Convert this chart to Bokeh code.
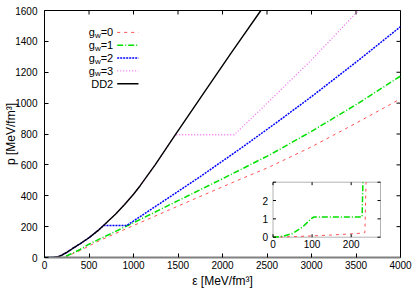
import numpy as np
from bokeh.plotting import figure
from bokeh.models import Range1d, FixedTicker, BoxAnnotation, Label, Arrow
from bokeh.core.properties import value
from bokeh.embed import file_html
from bokeh.resources import INLINE

# ---------------- data (MeV/fm^3) ----------------
eps_dd2 = [0, 50, 100, 150, 176, 200, 250, 300, 326, 400, 500, 600, 663, 800, 900, 1000, 1075, 1245, 1469, 1800, 2100, 2431, 2600]
p_dd2 = [0, 0.2, 1, 5, 11, 17, 33, 52, 62, 89, 128, 174, 208, 282, 343, 410, 465, 602, 795, 1075, 1327, 1600, 1740]

eps_w0 = [0, 50, 100, 150, 200, 225, 235, 238, 241, 300, 400, 627, 1000, 1500, 2000, 2538, 3000, 3500, 4000]
p_w0 = [0, 0.03, 0.07, 0.12, 0.18, 0.22, 0.25, 3, 5, 20, 45, 112, 207, 333, 458, 589, 717, 870, 1028]

eps_w1 = [0, 25, 50, 75, 100, 105, 228, 230, 232, 300, 400, 500, 627, 1000, 1500, 2000, 2538, 3000, 3500, 4000]
p_w1 = [0, 0.05, 0.2, 0.55, 1.05, 1.1, 1.1, 3, 5, 24, 52, 86, 122, 225, 368, 510, 667, 817, 990, 1175]

eps_w2 = [0, 50, 100, 150, 176, 200, 250, 300, 326, 400, 500, 600, 663, 926, 1300, 1750, 2200, 2600, 3000, 3500, 4000]
p_w2 = [0, 0.2, 1, 5, 11, 17, 33, 52, 62, 89, 128, 174, 208, 208, 351, 524, 705, 871, 1042, 1265, 1495]

eps_w3 = [0, 50, 100, 150, 176, 200, 250, 300, 326, 400, 500, 600, 663, 800, 900, 1000, 1075, 1245, 1469, 2132, 2539, 3000, 3528, 3700]
p_w3 = [0, 0.2, 1, 5, 11, 17, 33, 52, 62, 89, 128, 174, 208, 282, 343, 410, 465, 602, 795, 795, 1020, 1280, 1600, 1705]

x_ticks = [0, 500, 1000, 1500, 2000, 2500, 3000, 3500, 4000]
y_ticks = [0, 200, 400, 600, 800, 1000, 1200, 1400, 1600]
inset_x_ticks = [0, 100, 200]
inset_y_ticks = [0, 1, 2]
inset_x_max = 275
inset_y_max = 3

labels = ["0", "1", "2", "3"]
colors = ["#ff5050", "#00e000", "#0000ff", "#f070f0", "#000000"]
dashes = ["3 4", "6 2 1 2", "2 1", "1 2", "solid"]
widths = [1.0, 1.5, 1.5, 1.3, 1.4]

FONT = "Liberation Sans"

# ---------------- figure ----------------
W, H = 415, 291
ML, MR, MT, MB = 44, 15, 10, 34
p = figure(width=W, height=H, output_backend="svg", toolbar_location=None,
           x_range=Range1d(0, 4000), y_range=Range1d(0, 1600),
           min_border_left=ML, min_border_right=MR, min_border_top=MT, min_border_bottom=MB)
p.xgrid.visible = False
p.ygrid.visible = False
p.outline_line_color = "black"
p.background_fill_color = "white"
p.border_fill_color = "white"

for ax, ticks in ((p.xaxis[0], x_ticks), (p.yaxis[0], y_ticks)):
    ax.ticker = FixedTicker(ticks=ticks)
    ax.major_tick_in = 4
    ax.major_tick_out = 0
    ax.minor_tick_line_color = None
    ax.major_tick_line_color = "black"
    ax.axis_line_color = "black"
    ax.major_label_text_font = FONT
    ax.major_label_text_font_size = "10px"
    ax.major_label_text_color = "black"
    ax.axis_label_text_font = FONT
    ax.axis_label_text_font_size = "12px"
    ax.axis_label_text_font_style = "normal"
    ax.axis_label_text_color = "black"
p.xaxis[0].axis_line_color = "#808080"
p.xaxis[0].axis_line_width = 2
p.xaxis[0].major_label_standoff = 3
p.xaxis[0].axis_label_standoff = 2
p.yaxis[0].major_label_standoff = 7
p.yaxis[0].axis_label_standoff = -6
p.xaxis[0].axis_label = "ε [MeV/fm³]"
p.yaxis[0].axis_label = "p [MeV/fm³]"

frame_w = W - ML - MR
frame_h = H - MT - MB

# mirror ticks on top and right (inward)
xt = np.array(x_ticks, dtype=float)
yt = np.array(y_ticks, dtype=float)
p.ray(x=xt, y=np.full_like(xt, y_ticks[-1]), length=4, length_units="screen", angle=-np.pi / 2, line_color="black")
p.ray(x=np.full_like(yt, x_ticks[-1]), y=yt, length=4, length_units="screen", angle=np.pi, line_color="black")

series = [(eps_w0, p_w0), (eps_w1, p_w1), (eps_w2, p_w2), (eps_w3, p_w3), (eps_dd2, p_dd2)]
for (e, q), c, d, w in zip(series, colors, dashes, widths):
    p.line(e, q, line_color=c, line_dash=d, line_width=w)

# ---------------- inset (drawn through extra ranges) ----------------
ix0, ix1 = 228.5, 336.0     # inset box, px from frame left
iy0, iy1 = 20.3, 75.3       # inset box, px from frame bottom
ux = inset_x_max / (ix1 - ix0)
uy = inset_y_max / (iy1 - iy0)
p.extra_x_ranges = {"ix": Range1d(-ix0 * ux, (frame_w - ix0) * ux)}
p.extra_y_ranges = {"iy": Range1d(-iy0 * uy, (frame_h - iy0) * uy)}

box = BoxAnnotation(left=0, right=inset_x_max, bottom=0, top=inset_y_max,
                    x_range_name="ix", y_range_name="iy",
                    fill_color="white", fill_alpha=1.0, line_color="black", line_width=1,
                    level="underlay")
p.add_layout(box)

def clip(e, q, emax, qmax):
    xs, ys = [e[0]], [q[0]]
    for i in range(1, len(e)):
        x0, y0, x1, y1 = e[i - 1], q[i - 1], e[i], q[i]
        if x1 <= emax and y1 <= qmax:
            xs.append(x1); ys.append(y1); continue
        t = 1.0
        if x1 > emax:
            t = min(t, (emax - x0) / (x1 - x0))
        if y1 > qmax:
            t = min(t, (qmax - y0) / (y1 - y0))
        xs.append(x0 + t * (x1 - x0)); ys.append(y0 + t * (y1 - y0))
        break
    return xs, ys

for (e, q), c, d, w in list(zip(series, colors, dashes, widths))[:2]:
    xs, ys = clip(e, q, inset_x_max, inset_y_max)
    p.line(xs, ys, line_color=c, line_dash=d, line_width=w, x_range_name="ix", y_range_name="iy")

tl = 3
ixt = np.array(inset_x_ticks, dtype=float)
iyt = np.array(inset_y_ticks + [inset_y_max], dtype=float)
p.ray(x=ixt, y=np.zeros_like(ixt), length=tl, length_units="screen", angle=np.pi / 2,
      line_color="black", x_range_name="ix", y_range_name="iy")
p.ray(x=ixt, y=np.full_like(ixt, inset_y_max), length=tl, length_units="screen", angle=-np.pi / 2,
      line_color="black", x_range_name="ix", y_range_name="iy")
p.ray(x=np.zeros_like(iyt), y=iyt, length=tl, length_units="screen", angle=0,
      line_color="black", x_range_name="ix", y_range_name="iy")
p.ray(x=np.full_like(iyt, inset_x_max), y=iyt, length=tl, length_units="screen", angle=np.pi,
      line_color="black", x_range_name="ix", y_range_name="iy")
p.text(x=ixt, y=np.zeros_like(ixt), text=[str(int(t)) for t in inset_x_ticks], y_offset=3,
       text_align="center", text_baseline="top", text_font=value(FONT), text_font_size="10px",
       text_color="black", x_range_name="ix", y_range_name="iy")
iyl = np.array(inset_y_ticks, dtype=float)
p.text(x=np.zeros_like(iyl), y=iyl, text=[str(int(t)) for t in inset_y_ticks], x_offset=-5,
       text_align="right", text_baseline="middle", text_font=value(FONT), text_font_size="10px",
       text_color="black", x_range_name="ix", y_range_name="iy")

# ---------------- legend (label on the left, sample on the right) ----------------
xr = 112.7 - ML           # right edge of the legend text, px from frame left
s0, s1 = 116.7 - ML, 138.0 - ML
rows = [31.9, 44.7, 57.5, 70.4, 83.3]   # px from page top
fs, fs_sub = 11, 8
w_eq = (0.584 + 0.556) * fs
w_w = 0.722 * fs_sub
for i, (c, d, w) in enumerate(zip(colors, dashes, widths)):
    yy = frame_h - (rows[i] - MT)
    if i < 4:
        p.add_layout(Label(x=xr, y=yy, x_units="screen", y_units="screen", text="=" + labels[i],
                           text_align="right", text_baseline="middle", text_font=FONT,
                           text_font_size=f"{fs}px", text_color="black"))
        p.add_layout(Label(x=xr - w_eq, y=yy - 3, x_units="screen", y_units="screen", text="w",
                           text_align="right", text_baseline="middle", text_font=FONT,
                           text_font_size=f"{fs_sub}px", text_color="black"))
        p.add_layout(Label(x=xr - w_eq - w_w, y=yy, x_units="screen", y_units="screen", text="g",
                           text_align="right", text_baseline="middle", text_font=FONT,
                           text_font_size=f"{fs}px", text_color="black"))
    else:
        p.add_layout(Label(x=xr, y=yy, x_units="screen", y_units="screen", text="DD2",
                           text_align="right", text_baseline="middle", text_font=FONT,
                           text_font_size=f"{fs}px", text_color="black"))
    p.add_layout(Arrow(end=None, x_start=s0, y_start=yy, x_end=s1, y_end=yy,
                       start_units="screen", end_units="screen",
                       line_color=c, line_dash=d, line_width=w))

open("out.html", "w").write(file_html(p, INLINE))
